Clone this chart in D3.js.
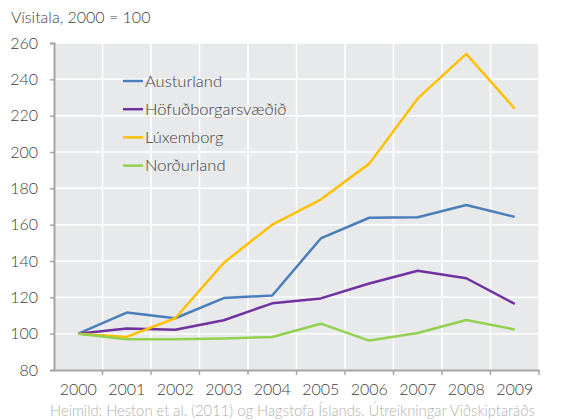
<!DOCTYPE html>
<html>
<head>
<meta charset="utf-8">
<script src="https://cdn.jsdelivr.net/npm/d3@7"></script>
<style>
  body { margin: 0; background: #fff; }
  text { font-family: Lato, "Open Sans", sans-serif; font-weight: 300; fill: #404040; }
</style>
</head>
<body>
<div id="chart"></div>
<script>
// data
var years = ["2000","2001","2002","2003","2004","2005","2006","2007","2008","2009"];
var austurland = [100, 111.6, 108.5, 119.6, 121, 152.4, 163.8, 164.1, 170.8, 164.3];
var hofudborg  = [100, 102.9, 102.2, 107.4, 116.7, 119.4, 127.6, 134.6, 130.5, 116.4];
var luxemborg  = [100, 98.2, 108.5, 139, 160, 173.8, 193.6, 229.5, 254, 223.8];
var nordurland = [100, 96.9, 96.9, 97.4, 98.2, 105.5, 96.2, 100.4, 107.5, 102.3];
var yTicks = [80, 100, 120, 140, 160, 180, 200, 220, 240, 260];

var series = [
  {name: "Austurland", values: austurland, color: "#4a7ebb"},
  {name: "Höfuðborgarsvæðið", values: hofudborg, color: "#7030a0"},
  {name: "Lúxemborg", values: luxemborg, color: "#ffc000"},
  {name: "Norðurland", values: nordurland, color: "#92d050"}
];

var W = 564, H = 420;
var margin = {top: 43, right: 25, bottom: 50, left: 54},
    width = W - margin.left - margin.right,
    height = H - margin.top - margin.bottom;

var svg = d3.select("#chart").append("svg")
    .attr("width", W)
    .attr("height", H);

var g = svg.append("g")
    .attr("transform", "translate(" + margin.left + "," + margin.top + ")");

var x = d3.scaleBand().domain(years).range([0, width]);
var y = d3.scaleLinear().domain([80, 260]).range([height, 0]);

// background
g.append("rect")
    .attr("width", width)
    .attr("height", height)
    .attr("fill", "#e8e9eb");

// horizontal grid
g.selectAll(".hgrid")
    .data(yTicks.slice(1))
  .enter().append("line")
    .attr("x1", 0).attr("x2", width)
    .attr("y1", function(d) { return y(d); })
    .attr("y2", function(d) { return y(d); })
    .attr("stroke", "#fff").attr("stroke-width", 1.5);

// vertical grid at band edges
g.selectAll(".vgrid")
    .data(years)
  .enter().append("line")
    .attr("x1", function(d) { return x(d) + x.bandwidth(); })
    .attr("x2", function(d) { return x(d) + x.bandwidth(); })
    .attr("y1", 0).attr("y2", height)
    .attr("stroke", "#fff").attr("stroke-width", 1.5);

// y axis
var yAxis = g.append("g")
    .call(d3.axisLeft(y).tickValues(yTicks).tickSize(4).tickPadding(12));
yAxis.select(".domain").attr("stroke", "#a6a6a6").attr("stroke-width", 2);
yAxis.selectAll(".tick line").attr("stroke", "#a6a6a6").attr("stroke-width", 1.5);
yAxis.selectAll("text")
    .style("font-size", "16px")
    .style("font-family", "Lato, sans-serif")
    .attr("fill", "#404040");

// x axis
var xAxis = g.append("g")
    .attr("transform", "translate(0," + height + ")")
    .call(d3.axisBottom(x).tickSize(0).tickPadding(14));
xAxis.select(".domain").attr("stroke", "#a6a6a6").attr("stroke-width", 2);
xAxis.selectAll("text")
    .style("font-size", "16px")
    .style("font-family", "Lato, sans-serif")
    .attr("fill", "#404040");
// tick marks at band edges
xAxis.selectAll(".edge")
    .data(years)
  .enter().append("line")
    .attr("x1", function(d) { return x(d) + x.bandwidth(); })
    .attr("x2", function(d) { return x(d) + x.bandwidth(); })
    .attr("y1", 0).attr("y2", 5)
    .attr("stroke", "#a6a6a6").attr("stroke-width", 1.5);

// lines
var line = d3.line()
    .x(function(d, i) { return x(years[i]) + x.bandwidth() / 2; })
    .y(function(d) { return y(d); });

g.selectAll(".series")
    .data(series)
  .enter().append("path")
    .attr("d", function(d) { return line(d.values); })
    .attr("fill", "none")
    .attr("stroke", function(d) { return d.color; })
    .attr("stroke-width", 2.5)
    .attr("stroke-linejoin", "round");

// legend
var legend = svg.append("g").attr("transform", "translate(123,81)");
var items = legend.selectAll(".item")
    .data(series)
  .enter().append("g")
    .attr("transform", function(d, i) { return "translate(0," + i * 28.2 + ")"; });
items.append("line")
    .attr("x1", 0).attr("x2", 20)
    .attr("stroke", function(d) { return d.color; })
    .attr("stroke-width", 2.5);
items.append("text")
    .attr("x", 22).attr("dy", "0.35em")
    .style("font-size", "16.5px")
    .text(function(d) { return d.name; });

// title and source
svg.append("text")
    .attr("x", 11).attr("y", 23)
    .style("font-size", "16px")
    .text("Vísitala, 2000 = 100");

svg.append("text")
    .attr("x", 50).attr("y", 416)
    .style("font-size", "14.8px")
    .style("fill", "#b0b0b0")
    .text("Heimild: Heston et al. (2011) og Hagstofa Íslands. Útreikningar Viðskiptaráðs");
</script>
</body>
</html>
